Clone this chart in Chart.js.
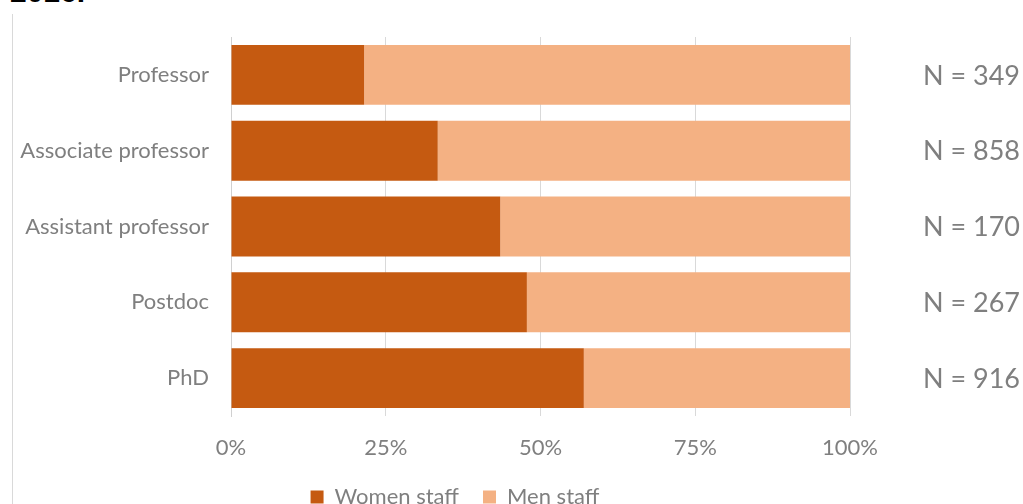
<!DOCTYPE html>
<html>
<head>
<meta charset="utf-8">
<script src="https://cdn.jsdelivr.net/npm/chart.js@4.4.0/dist/chart.umd.min.js"></script>
<style>
  html, body { margin: 0; padding: 0; background: #fff; overflow: hidden; width: 1023px; height: 504px; }
  #wrap { position: absolute; left: 0; top: 0; width: 1023px; height: 530px; }
  #title { position: absolute; left: 10px; top: -23px; font: bold 30px "Liberation Sans", Arial, sans-serif; color: #000; line-height: 30px; }
  #frame { position: absolute; left: 12px; top: 14px; width: 0; height: 520px; border-left: 1px solid #d9d9d9; }
</style>
</head>
<body>
<div id="title">2016.</div>
<div id="frame"></div>
<div id="wrap"><canvas id="c"></canvas></div>
<script>
const categories = ["Professor", "Associate professor", "Assistant professor", "Postdoc", "PhD"];
const womenStaff = [21.5, 33.4, 43.5, 47.8, 57.0];
const menStaff = [78.5, 66.6, 56.5, 52.2, 43.0];
const nLabels = ["N = 349", "N = 858", "N = 170", "N = 267", "N = 916"];
const xTicks = [0, 25, 50, 75, 100];

const FONT = "Lato, 'Open Sans', sans-serif";
const GRAY = "#7f7f7f";

const nPlugin = {
  id: 'nLabels',
  afterLayout(chart) {
    if (chart.legend) { chart.legend.left += 30; chart.legend.right += 30; }
  },
  afterDraw(chart) {
    const ctx = chart.ctx;
    const ys = chart.scales.y;
    ctx.save();
    ctx.font = "27px " + FONT;
    ctx.fillStyle = GRAY;
    ctx.textAlign = "right";
    ctx.textBaseline = "middle";
    nLabels.forEach((t, i) => {
      ctx.fillText(t, 1020, ys.getPixelForValue(i) + 1);
    });
    ctx.restore();
  }
};

new Chart(document.getElementById('c'), {
  type: 'bar',
  data: {
    labels: categories,
    datasets: [
      { label: "Women staff", data: womenStaff, backgroundColor: "#C55A11", borderWidth: 0 },
      { label: "Men staff", data: menStaff, backgroundColor: "#F4B183", borderWidth: 0 }
    ]
  },
  options: {
    indexAxis: 'y',
    responsive: true,
    maintainAspectRatio: false,
    animation: false,
    layout: { padding: { left: 0, right: 173, top: 37, bottom: 12 } },
    scales: {
      x: {
        stacked: true,
        min: 0, max: 100,
        afterBuildTicks(scale) { scale.ticks = xTicks.map(v => ({ value: v })); },
        afterFit(scale) { scale.height = 46; },
        ticks: {
          callback: v => v + "%",
          color: GRAY,
          font: { family: FONT, size: 22 },
          padding: 19
        },
        grid: { color: "#d9d9d9", lineWidth: 1, drawTicks: false },
        border: { display: false }
      },
      y: {
        stacked: true,
        afterFit(scale) { scale.width = 231; },
        ticks: {
          color: GRAY,
          font: { family: FONT, size: 22 },
          padding: 22
        },
        grid: { display: false, drawTicks: false },
        border: { display: true, color: "#d0d0d0", width: 1 }
      }
    },
    datasets: { bar: { categoryPercentage: 1, barPercentage: 0.79 } },
    plugins: {
      legend: {
        position: 'bottom',
        labels: {
          color: GRAY,
          font: { family: FONT, size: 22 },
          boxWidth: 13,
          boxHeight: 13,
          padding: 24
        }
      },
      tooltip: { enabled: false }
    }
  },
  plugins: [nPlugin]
});
</script>
</body>
</html>
